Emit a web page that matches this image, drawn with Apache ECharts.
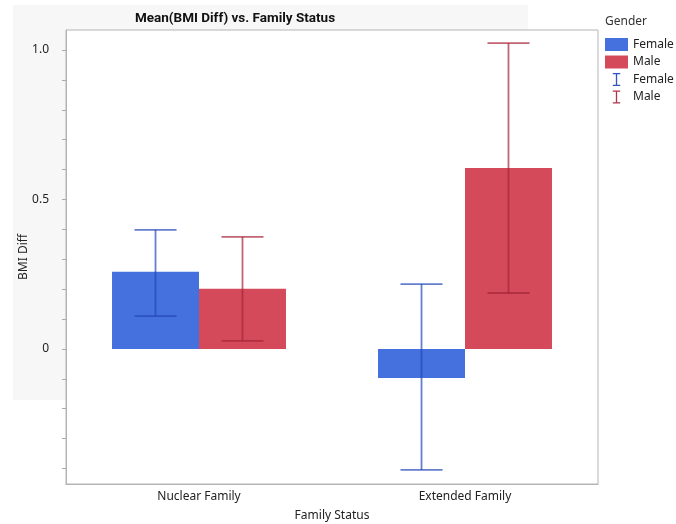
<!DOCTYPE html>
<html>
<head>
<meta charset="utf-8">
<script src="https://cdn.jsdelivr.net/npm/echarts@6/dist/echarts.min.js"></script>
<style>html,body{margin:0;padding:0;background:#fff;}#chart{width:676px;height:524px;}</style>
</head>
<body>
<div id="chart"></div>
<script>
const categories = ['Nuclear Family', 'Extended Family'];
const femaleMean = [0.258, -0.097];
const maleMean = [0.201, 0.605];
const femaleLow = [0.110, -0.405];
const femaleHigh = [0.398, 0.217];
const maleLow = [0.027, 0.187];
const maleHigh = [0.375, 1.023];
const yTickValues = [-0.4, -0.3, -0.2, -0.1, 0, 0.1, 0.2, 0.3, 0.4, 0.5, 0.6, 0.7, 0.8, 0.9, 1.0];
const yLabelValues = [0, 0.5, 1.0];

const FONT = 'Noto Sans';
const CAT_GAP = 0.346;
const errIcon = 'path://M0,0H8V1.4H4.7V12.6H8V14H0V12.6H3.3V1.4H0Z';

function errData(lo, hi) {
  return categories.map((c, i) => [i, lo[i], hi[i]]);
}
function makeErr(side, color) {
  return function (params, api) {
    const cat = api.value(0);
    const lo = api.coord([cat, api.value(1)]);
    const hi = api.coord([cat, api.value(2)]);
    const band = api.size([1, 0])[0];
    const x = lo[0] + side * band * (1 - CAT_GAP) / 4;
    const half = band * 0.079;
    const st = { stroke: color, lineWidth: 1.8, opacity: 0.7 };
    return {
      type: 'group',
      children: [
        { type: 'line', shape: { x1: x, y1: lo[1], x2: x, y2: hi[1] }, style: st },
        { type: 'line', shape: { x1: x - half, y1: lo[1], x2: x + half, y2: lo[1] }, style: st },
        { type: 'line', shape: { x1: x - half, y1: hi[1], x2: x + half, y2: hi[1] }, style: st }
      ]
    };
  };
}

const chart = echarts.init(document.getElementById('chart'), null, { renderer: 'canvas' });
chart.setOption({
  animation: false,
  textStyle: { fontFamily: FONT },
  graphic: [
    { type: 'rect', z: -10, shape: { x: 13, y: 5, width: 515, height: 395 }, style: { fill: '#f7f7f7' } },
    { type: 'text', x: 605, y: 22, style: { text: 'Gender', fill: '#333', font: '12px ' + FONT, verticalAlign: 'middle' } }
  ],
  title: {
    text: 'Mean(BMI Diff) vs. Family Status',
    left: 235, top: 12, textAlign: 'center', padding: 0,
    textStyle: { fontFamily: 'Roboto', fontSize: 13.5, fontWeight: 'bold', color: '#111' }
  },
  legend: {
    orient: 'vertical', left: 605, top: 38, padding: 0,
    itemWidth: 23, itemHeight: 13, itemGap: 4.5,
    textStyle: { fontFamily: FONT, fontSize: 12, color: '#222' },
    formatter: n => n.trim(),
    selectedMode: false,
    data: [
      { name: 'Female', icon: 'rect' },
      { name: 'Male', icon: 'rect' },
      { name: 'Female ', icon: errIcon },
      { name: 'Male ', icon: errIcon }
    ]
  },
  grid: {
    left: 66, right: 78, top: 30, bottom: 40, outerBoundsMode: 'none', containLabel: false,
    show: true, backgroundColor: '#fff', borderColor: '#b4b4b4', borderWidth: 1
  },
  xAxis: {
    type: 'category', data: categories,
    name: 'Family Status', nameLocation: 'middle', nameGap: 26,
    nameTextStyle: { fontFamily: FONT, fontSize: 12, color: '#222' },
    axisLine: { onZero: false, lineStyle: { color: '#b4b4b4' } },
    axisTick: { show: false },
    axisLabel: { fontFamily: FONT, fontSize: 12, color: '#222', margin: 7 }
  },
  yAxis: {
    type: 'value', min: -0.452, max: 1.067,
    name: 'BMI Diff', nameLocation: 'middle', nameGap: 36, nameRotate: 90, nameMoveOverlap: false,
    nameTextStyle: { fontFamily: FONT, fontSize: 12, color: '#222' },
    axisLine: { show: true, lineStyle: { color: '#b4b4b4' } },
    splitLine: { show: false },
    axisTick: { show: true, length: 4, lineStyle: { color: '#aaa' }, customValues: yTickValues },
    axisLabel: {
      fontFamily: FONT, fontSize: 12, color: '#222', margin: 17,
      customValues: yLabelValues,
      formatter: v => (Math.abs(v) < 1e-9 ? '0' : v.toFixed(1))
    }
  },
  series: [
    { name: 'Female', type: 'bar', data: femaleMean, barGap: '0%', barCategoryGap: (CAT_GAP * 100) + '%',
      itemStyle: { color: '#4471de' } },
    { name: 'Male', type: 'bar', data: maleMean, barGap: '0%', barCategoryGap: (CAT_GAP * 100) + '%',
      itemStyle: { color: '#d44a5a' } },
    { name: 'Female ', type: 'custom', data: errData(femaleLow, femaleHigh), encode: { x: 0, y: [1, 2] },
      itemStyle: { color: '#2f55c4' }, renderItem: makeErr(-1, '#2447b8'), z: 5 },
    { name: 'Male ', type: 'custom', data: errData(maleLow, maleHigh), encode: { x: 0, y: [1, 2] },
      itemStyle: { color: '#b0354a' }, renderItem: makeErr(1, '#a52338'), z: 5 }
  ]
});
</script>
</body>
</html>
